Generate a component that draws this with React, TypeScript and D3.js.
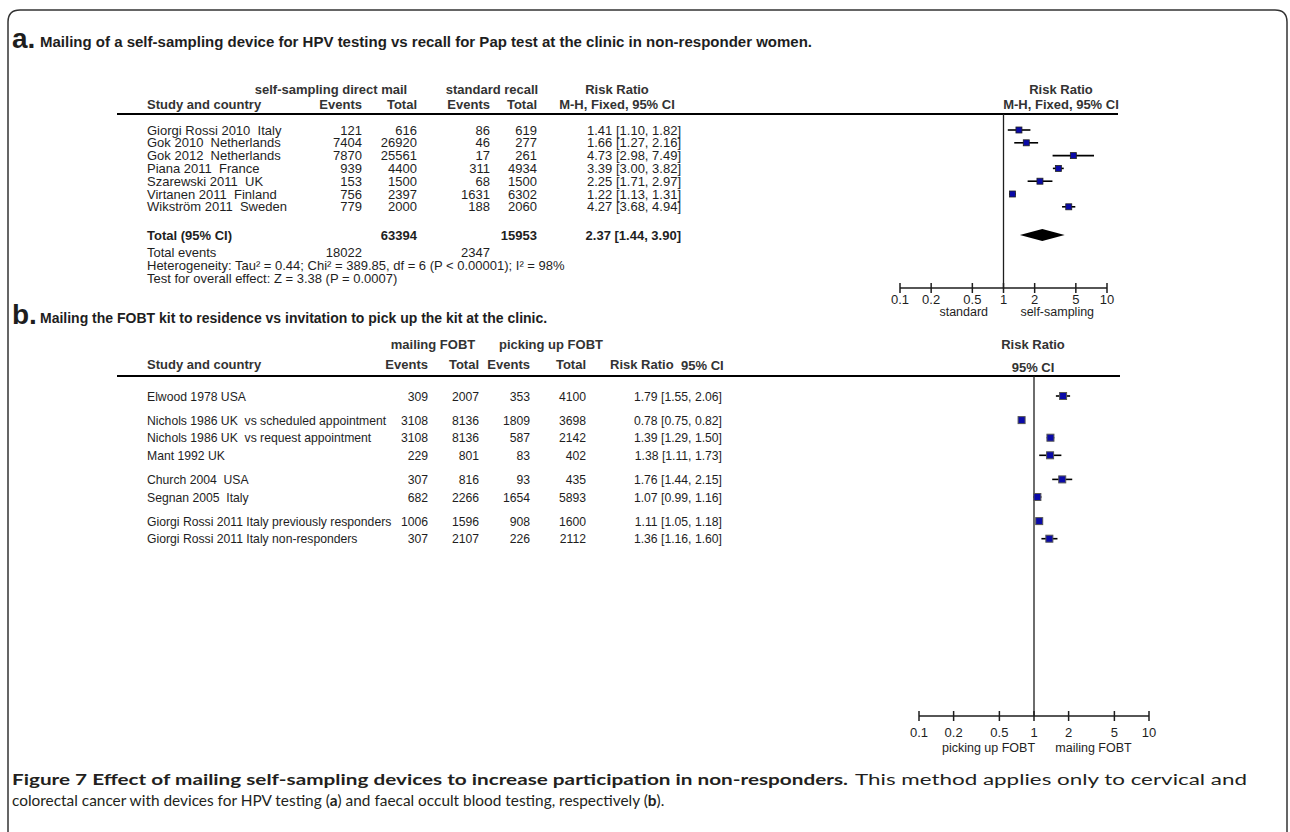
import React from "react";
import * as d3 from "d3";

// ---- section a: self-sampling HPV device vs recall for Pap test
const studiesA = [
  "Giorgi Rossi 2010  Italy",
  "Gok 2010  Netherlands",
  "Gok 2012  Netherlands",
  "Piana 2011  France",
  "Szarewski 2011  UK",
  "Virtanen 2011  Finland",
  "Wikström 2011  Sweden",
];
const eventsA1 = [121, 7404, 7870, 939, 153, 756, 779];
const totalA1 = [616, 26920, 25561, 4400, 1500, 2397, 2000];
const eventsA2 = [86, 46, 17, 311, 68, 1631, 188];
const totalA2 = [619, 277, 261, 4934, 1500, 6302, 2060];
const rrA = [1.41, 1.66, 4.73, 3.39, 2.25, 1.22, 4.27];
const lowA = [1.1, 1.27, 2.98, 3.0, 1.71, 1.13, 3.68];
const highA = [1.82, 2.16, 7.49, 3.82, 2.97, 1.31, 4.94];
const totalA = { n1: 63394, n2: 15953, ev1: 18022, ev2: 2347, rr: 2.37, low: 1.44, high: 3.9 };

// ---- section b: mailing FOBT kit vs picking it up
const studiesB = [
  "Elwood 1978 USA",
  "Nichols 1986 UK  vs scheduled appointment",
  "Nichols 1986 UK  vs request appointment",
  "Mant 1992 UK",
  "Church 2004  USA",
  "Segnan 2005  Italy",
  "Giorgi Rossi 2011 Italy previously responders",
  "Giorgi Rossi 2011 Italy non-responders",
];
const blockB = [0, 1, 1, 1, 2, 2, 3, 3];
const eventsB1 = [309, 3108, 3108, 229, 307, 682, 1006, 307];
const totalB1 = [2007, 8136, 8136, 801, 816, 2266, 1596, 2107];
const eventsB2 = [353, 1809, 587, 83, 93, 1654, 908, 226];
const totalB2 = [4100, 3698, 2142, 402, 435, 5893, 1600, 2112];
const rrB = [1.79, 0.78, 1.39, 1.38, 1.76, 1.07, 1.11, 1.36];
const lowB = [1.55, 0.75, 1.29, 1.11, 1.44, 0.99, 1.05, 1.16];
const highB = [2.06, 0.82, 1.5, 1.73, 2.15, 1.16, 1.18, 1.6];

const axisTicks = [0.1, 0.2, 0.5, 1, 2, 5, 10];
const tickLabels = ["0.1", "0.2", "0.5", "1", "2", "5", "10"];

const FONT = "'Liberation Sans', Arial, Helvetica, sans-serif";
const CAP_FONT = "Lato, 'Open Sans', sans-serif";
const INK = "#1e1e1e";
const BLUE = "#0a0aa8";

const f2 = d3.format(".2f");
const ciText = (r: number, l: number, h: number) => `${f2(r)} [${f2(l)}, ${f2(h)}]`;
// keep the double spaces of the study labels
const keepSpaces = (s: string) => s.replace(/  /g, "\u00a0 ");

function Forest(props: {
  x: d3.ScaleLogarithmic<number, number>;
  top: number;
  axisY: number;
  labelDy: number;
  subDy: number;
  left: string;
  right: string;
  children?: React.ReactNode;
}) {
  const { x, top, axisY, labelDy, subDy, left, right } = props;
  return (
    <g>
      <line x1={x(1)} x2={x(1)} y1={top} y2={axisY} stroke={INK} strokeWidth={1.3} />
      {props.children}
      <line x1={x(0.1)} x2={x(10)} y1={axisY} y2={axisY} stroke={INK} strokeWidth={1.6} />
      {axisTicks.map((t, i) => (
        <g key={i}>
          <line x1={x(t)} x2={x(t)} y1={axisY - 5} y2={axisY + 5} stroke={INK} strokeWidth={1.5} />
          <text x={x(t)} y={axisY + labelDy} textAnchor="middle" fontSize={13}>
            {tickLabels[i]}
          </text>
        </g>
      ))}
      <text x={(x(0.1) + x(1)) / 2 + 12} y={axisY + subDy} textAnchor="middle" fontSize={12.5}>
        {left}
      </text>
      <text x={(x(1) + x(10)) / 2 + 2} y={axisY + subDy} textAnchor="middle" fontSize={12.5}>
        {right}
      </text>
    </g>
  );
}

export default function App() {
  // section a geometry
  const xA = d3.scaleLog().domain([0.1, 10]).range([900, 1107]);
  const rowA = d3.scaleLinear().domain([0, 1]).range([130, 142.8]);
  // section b geometry
  const xB = d3.scaleLog().domain([0.1, 10]).range([919, 1149]);
  const rowB = (i: number) => 396 + i * 17.6 + blockB[i] * 6.5;

  const dy = 4.5;
  const bold = { fontWeight: 700 } as const;

  return (
    <div style={{ position: "absolute", left: 0, top: 0 }}>
      <svg width={1290} height={832} style={{ display: "block", background: "#fff" }} fontFamily={FONT} fill={INK}>
        {/* frame */}
        <path d="M8,850 L8,22 Q8,10 20,10 L1275,10 Q1287,10 1287,22 L1287,850" fill="none" stroke="#333" strokeWidth={1.5} />

        {/* ===== a ===== */}
        <text x={12} y={48} fontSize={28} style={bold}>a.</text>
        <text x={40} y={47} fontSize={14} style={bold} textLength={772} lengthAdjust="spacingAndGlyphs">
          Mailing of a self-sampling device for HPV testing vs recall for Pap test at the clinic in non-responder women.
        </text>
        <g fontSize={13} style={bold} fill="#333">
          <text x={331} y={94} textAnchor="middle">self-sampling direct mail</text>
          <text x={492} y={94} textAnchor="middle">standard recall</text>
          <text x={617} y={94} textAnchor="middle">Risk Ratio</text>
          <text x={1061} y={94} textAnchor="middle">Risk Ratio</text>
          <text x={147} y={109}>Study and country</text>
          <text x={362} y={109} textAnchor="end">Events</text>
          <text x={417} y={109} textAnchor="end">Total</text>
          <text x={490} y={109} textAnchor="end">Events</text>
          <text x={537} y={109} textAnchor="end">Total</text>
          <text x={617} y={109} textAnchor="middle">M-H, Fixed, 95% CI</text>
          <text x={1061} y={109} textAnchor="middle">M-H, Fixed, 95% CI</text>
        </g>
        <line x1={117} x2={1118} y1={114} y2={114} stroke="#000" strokeWidth={2} />
        <g fontSize={13}>
          {studiesA.map((s, i) => {
            const y = rowA(i) + dy;
            return (
              <g key={s}>
                <text x={147} y={y}>{keepSpaces(s)}</text>
                <text x={362} y={y} textAnchor="end">{eventsA1[i]}</text>
                <text x={417} y={y} textAnchor="end">{totalA1[i]}</text>
                <text x={490} y={y} textAnchor="end">{eventsA2[i]}</text>
                <text x={537} y={y} textAnchor="end">{totalA2[i]}</text>
                <text x={681} y={y} textAnchor="end">{ciText(rrA[i], lowA[i], highA[i])}</text>
              </g>
            );
          })}
          <text x={147} y={235 + dy} style={bold}>Total (95% CI)</text>
          <text x={417} y={235 + dy} textAnchor="end" style={bold}>{totalA.n1}</text>
          <text x={537} y={235 + dy} textAnchor="end" style={bold}>{totalA.n2}</text>
          <text x={681} y={235 + dy} textAnchor="end" style={bold}>{ciText(totalA.rr, totalA.low, totalA.high)}</text>
          <text x={147} y={252 + dy}>Total events</text>
          <text x={362} y={252 + dy} textAnchor="end">{totalA.ev1}</text>
          <text x={490} y={252 + dy} textAnchor="end">{totalA.ev2}</text>
          <text x={147} y={265 + dy}>Heterogeneity: Tau² = 0.44; Chi² = 389.85, df = 6 (P &lt; 0.00001); I² = 98%</text>
          <text x={147} y={278 + dy}>Test for overall effect: Z = 3.38 (P = 0.0007)</text>
        </g>
        <Forest x={xA} top={114} axisY={288} labelDy={16} subDy={28} left="standard" right="self-sampling">
          {studiesA.map((s, i) => (
            <g key={s}>
              <line x1={xA(lowA[i])} x2={xA(highA[i])} y1={rowA(i)} y2={rowA(i)} stroke="#000" strokeWidth={1.6} />
              <rect x={xA(rrA[i]) - 3} y={rowA(i) - 3} width={6} height={6} fill={BLUE} stroke="#222" strokeWidth={0.8} />
            </g>
          ))}
          <path
            d={`M${xA(totalA.low)},235 L${xA(totalA.rr)},229 L${xA(totalA.high)},235 L${xA(totalA.rr)},241 Z`}
            fill="#000"
          />
        </Forest>

        {/* ===== b ===== */}
        <text x={12} y={324} fontSize={28} style={bold}>b.</text>
        <text x={40} y={323} fontSize={14} style={bold}>
          Mailing the FOBT kit to residence vs invitation to pick up the kit at the clinic.
        </text>
        <g fontSize={13} style={bold} fill="#333">
          <text x={433} y={349} textAnchor="middle">mailing FOBT</text>
          <text x={551} y={349} textAnchor="middle">picking up FOBT</text>
          <text x={1033} y={349} textAnchor="middle">Risk Ratio</text>
          <text x={147} y={369}>Study and country</text>
          <text x={428} y={369} textAnchor="end">Events</text>
          <text x={479} y={369} textAnchor="end">Total</text>
          <text x={530} y={369} textAnchor="end">Events</text>
          <text x={586} y={369} textAnchor="end">Total</text>
          <text x={610} y={369}>Risk Ratio</text>
          <text x={681} y={370}>95% CI</text>
          <text x={1033} y={372} textAnchor="middle">95% CI</text>
        </g>
        <line x1={117} x2={1120} y1={376} y2={376} stroke="#000" strokeWidth={2} />
        <g fontSize={12.2}>
          {studiesB.map((s, i) => {
            const y = rowB(i) + dy;
            return (
              <g key={s}>
                <text x={147} y={y}>{keepSpaces(s)}</text>
                <text x={428} y={y} textAnchor="end">{eventsB1[i]}</text>
                <text x={479} y={y} textAnchor="end">{totalB1[i]}</text>
                <text x={530} y={y} textAnchor="end">{eventsB2[i]}</text>
                <text x={586} y={y} textAnchor="end">{totalB2[i]}</text>
                <text x={722} y={y} textAnchor="end">{ciText(rrB[i], lowB[i], highB[i])}</text>
              </g>
            );
          })}
        </g>
        <Forest x={xB} top={376} axisY={716} labelDy={21} subDy={36} left="picking up FOBT" right="mailing FOBT">
          {studiesB.map((s, i) => (
            <g key={s}>
              <line x1={xB(lowB[i])} x2={xB(highB[i])} y1={rowB(i)} y2={rowB(i)} stroke="#000" strokeWidth={1.6} />
              <rect x={xB(rrB[i]) - 3.5} y={rowB(i) - 3.5} width={7} height={7} fill={BLUE} stroke="#555" strokeWidth={1} />
            </g>
          ))}
        </Forest>

        {/* caption */}
        <g fontFamily={CAP_FONT} fontSize={16} fill="#231f20">
          <text x={12} y={785} fontWeight={700} textLength={836} lengthAdjust="spacingAndGlyphs">
            Figure 7 Effect of mailing self-sampling devices to increase participation in non-responders.
          </text>
          <text x={855} y={785} textLength={392} lengthAdjust="spacingAndGlyphs">
            This method applies only to cervical and
          </text>
          <text x={12} y={806} fontSize={15.4}>
            colorectal cancer with devices for HPV testing (<tspan fontWeight={700}>a</tspan>) and faecal occult blood testing, respectively (<tspan fontWeight={700}>b</tspan>).
          </text>
        </g>
      </svg>
    </div>
  );
}
